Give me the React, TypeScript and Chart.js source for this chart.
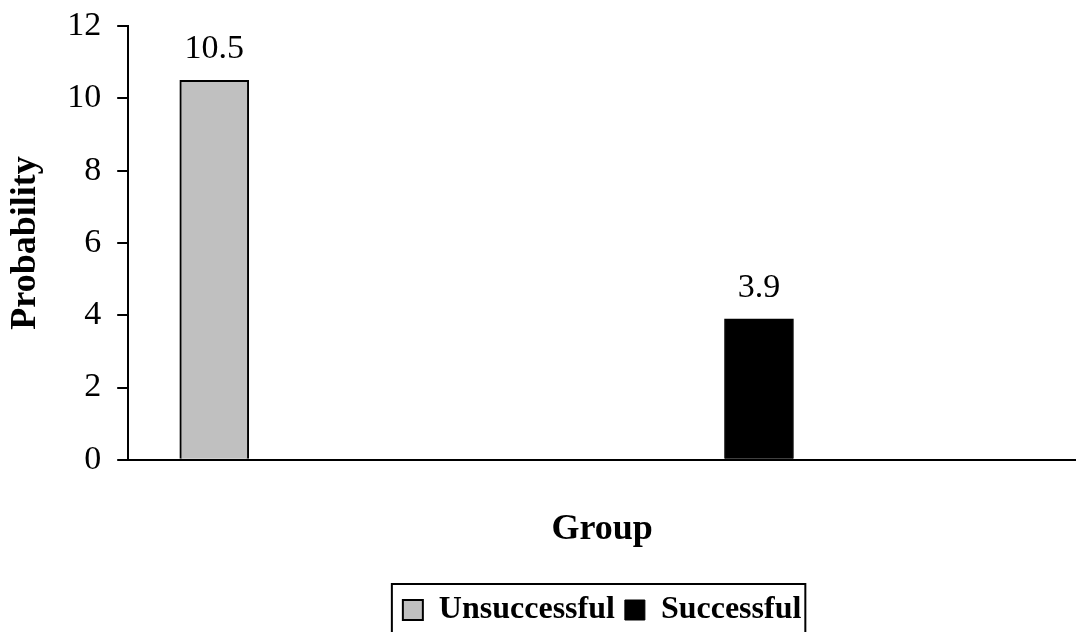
import React, { useEffect, useRef } from "react";
import { Chart, registerables } from "chart.js";

Chart.register(...registerables);

const categories: string[] = ["Unsuccessful", "Successful"];
const values: number[] = [10.5, 3.9];
const fills: string[] = ["#c0c0c0", "#000000"];
const borderWidths: number[] = [2, 1];
const yTicks: number[] = [0, 2, 4, 6, 8, 10, 12];
const xTitle = "Group";
const yTitle = "Probability";

const SERIF = '"Liberation Serif", "Times New Roman", serif';

const valueLabels = {
  id: "valueLabels",
  afterDatasetsDraw(chart: any) {
    const ctx = chart.ctx;
    ctx.save();
    ctx.font = `34px ${SERIF}`;
    ctx.fillStyle = "#000";
    ctx.textAlign = "center";
    ctx.textBaseline = "alphabetic";
    chart.data.datasets.forEach((ds: any, i: number) => {
      const meta = chart.getDatasetMeta(i);
      meta.data.forEach((el: any, j: number) => {
        const raw = ds.data[j];
        const v = typeof raw === "object" ? raw.y : raw;
        ctx.fillText(String(v), el.x, el.y - 22);
      });
    });
    ctx.restore();
  },
};

const legendFrame = {
  id: "legendFrame",
  afterDraw(chart: any) {
    const lg = chart.legend;
    if (!lg || !lg.legendHitBoxes || !lg.legendHitBoxes.length) return;
    const hb = lg.legendHitBoxes;
    const left = Math.min(...hb.map((h: any) => h.left)) - 11;
    const right = Math.max(...hb.map((h: any) => h.left + h.width)) + 4;
    const top = lg.top;
    const ctx = chart.ctx;
    ctx.save();
    ctx.strokeStyle = "#000";
    ctx.lineWidth = 2;
    ctx.strokeRect(left, top, right - left, chart.height - top + 20);
    ctx.restore();
  },
};

export default function App() {
  const ref = useRef<HTMLCanvasElement | null>(null);

  useEffect(() => {
    if (!ref.current) return;
    const datasets = categories.map((name, i) => ({
      label: name,
      data: [{ x: i, y: values[i] }],
      backgroundColor: fills[i],
      borderColor: "#000",
      borderWidth: borderWidths[i],
      barThickness: 69,
      grouped: false,
    }));
    const chart = new Chart(ref.current, {
      type: "bar",
      data: { datasets },
      plugins: [valueLabels, legendFrame],
      options: {
        animation: false,
        responsive: false,
        layout: { padding: { top: 24, right: 0, left: 0, bottom: -4 } },
        plugins: {
          tooltip: { enabled: false },
          legend: {
            position: "bottom",
            fullSize: false,
            labels: {
              color: "#000",
              font: { family: SERIF, size: 32, weight: "bold" },
              boxWidth: 20,
              boxHeight: 20,
              padding: 10,
            },
          },
        },
        scales: {
          x: {
            type: "linear",
            offset: false,
            min: -0.158,
            max: 1.582,
            grid: { display: false },
            ticks: { display: false },
            border: { display: true, color: "#000", width: 2 },
            title: {
              display: true,
              text: xTitle,
              color: "#000",
              font: { family: SERIF, size: 36, weight: "bold" },
              padding: { top: 40, bottom: 33 },
            },
          },
          y: {
            min: yTicks[0],
            max: yTicks[yTicks.length - 1],
            afterBuildTicks: (scale: any) => {
              scale.ticks = yTicks.map((v) => ({ value: v }));
            },
            grid: {
              display: true,
              drawOnChartArea: false,
              drawTicks: true,
              tickLength: 11,
              color: "#000",
              lineWidth: 2,
            },
            border: { display: true, color: "#000", width: 2 },
            ticks: {
              color: "#000",
              font: { family: SERIF, size: 34, lineHeight: 0.6 },
              padding: 16,
            },
            title: {
              display: true,
              text: yTitle,
              color: "#000",
              font: { family: SERIF, size: 36, weight: "bold" },
              padding: { top: 4, bottom: 4 },
            },
          },
        },
      } as any,
    });
    return () => chart.destroy();
  }, []);

  return (
    <div style={{ position: "absolute", left: 0, top: 0, width: 1076, height: 632, background: "#fff" }}>
      <canvas ref={ref} width={1076} height={632} />
    </div>
  );
}
